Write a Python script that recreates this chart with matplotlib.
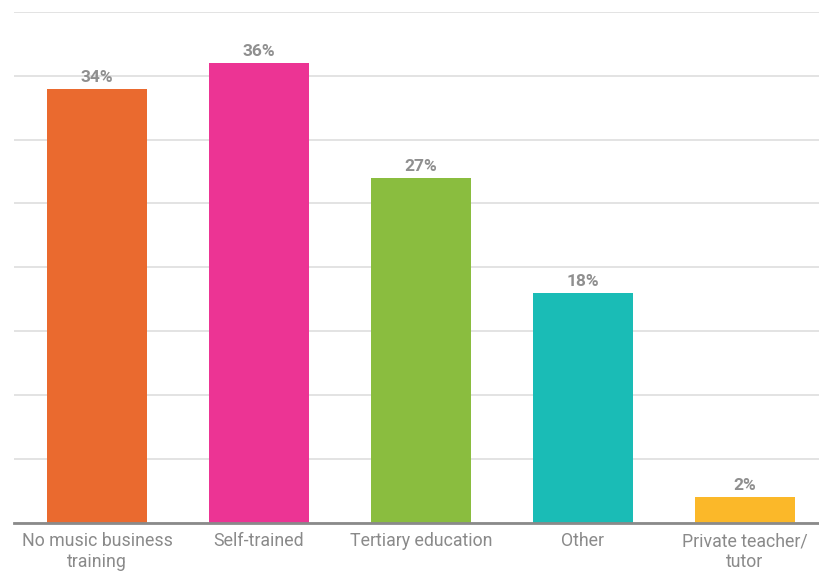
import matplotlib.pyplot as plt
from matplotlib import rc

rc("font", family=["Roboto", "DejaVu Sans"])

categories = ["No music business\ntraining", "Self-trained", "Tertiary education",
              "Other", "Private teacher/\ntutor"]
values = [34, 36, 27, 18, 2]
colors = ["#EA6A2F", "#EC3494", "#8ABD3F", "#1ABCB6", "#FBB829"]
yticks = [0, 5, 10, 15, 20, 25, 30, 35, 40]

fig = plt.figure(figsize=(8.2, 5.71), dpi=100)
ax = fig.add_axes([14/820, 48.5/571, 806/820, 510.5/571])

x = list(range(len(values)))
ax.bar(x, values, width=0.617, color=colors, zorder=3)

for xi, v in zip(x, values):
    ax.text(xi, v + 0.3, "%d%%" % v, ha="center", va="bottom",
            fontsize=12.5, fontweight="bold", color="#8f8f8f")

ax.set_xlim(-0.512, 4.463)
ax.set_ylim(0, 40)
ax.set_yticks(yticks)
ax.yaxis.grid(True, color="#e0e0e0", lw=1.3, zorder=0)
ax.tick_params(axis="y", left=False, labelleft=False)
ax.tick_params(axis="x", length=0, pad=7, labelsize=12.8, colors="#8a8a8a")
ax.set_xticks(x)
ax.set_xticklabels(categories, linespacing=1.2)
for s in ["top", "right", "left"]:
    ax.spines[s].set_visible(False)
ax.spines["bottom"].set_color("#8a8a8a")
ax.spines["bottom"].set_linewidth(2)
ax.spines["bottom"].set_zorder(4)

fig.savefig("out.png", dpi=100)
